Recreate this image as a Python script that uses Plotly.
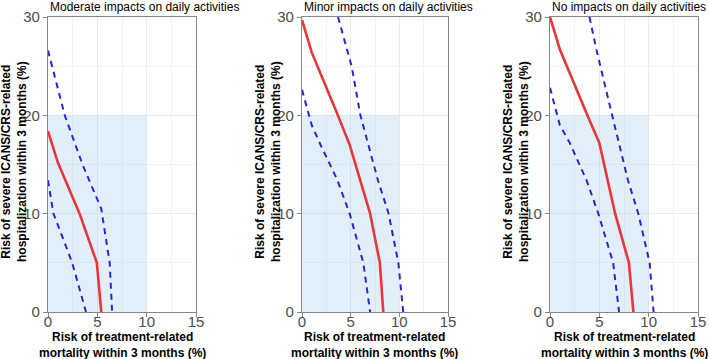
import plotly.graph_objects as go

# ---------------- data ----------------
panel_titles = ["Moderate impacts on daily activities",
                "Minor impacts on daily activities",
                "No impacts on daily activities"]

# Panel 1: Moderate
mod_est_x = [0.0, 1.0, 3.2, 4.95, 5.4]
mod_est_y = [18.4, 15.2, 10.0, 5.0, 0.0]
mod_hi_x = [0.0, 1.7, 3.5, 5.4, 6.25, 6.5]
mod_hi_y = [26.6, 20.0, 15.0, 10.5, 5.0, 0.0]
mod_lo_x = [0.0, 0.55, 1.4, 2.45, 3.85]
mod_lo_y = [13.4, 10.0, 7.8, 5.0, 0.0]

# Panel 2: Minor
min_est_x = [0.0, 1.0, 3.6, 4.9, 7.0, 8.0, 8.35]
min_est_y = [29.7, 26.4, 20.2, 17.0, 10.0, 5.0, 0.0]
min_hi_x = [3.7, 5.1, 6.0, 7.8, 8.9, 9.9, 10.4]
min_hi_y = [30.0, 25.0, 20.0, 13.4, 10.0, 5.0, 0.0]
min_lo_x = [0.0, 1.0, 2.0, 3.6, 4.9, 6.3, 7.0]
min_lo_y = [22.6, 19.0, 16.8, 13.5, 10.0, 5.0, 0.0]

# Panel 3: No impacts
no_est_x = [0.0, 1.0, 3.7, 5.0, 6.6, 8.0, 8.45]
no_est_y = [30.0, 26.7, 20.2, 17.2, 10.0, 5.0, 0.0]
no_hi_x = [4.0, 4.7, 6.25, 7.9, 8.95, 10.1, 10.5]
no_hi_y = [30.0, 26.7, 20.2, 13.4, 10.0, 5.0, 0.0]
no_lo_x = [0.0, 1.0, 2.0, 3.7, 4.9, 6.4, 7.0]
no_lo_y = [22.8, 19.0, 17.2, 13.4, 10.0, 5.0, 0.0]

shade_x = [0, 10]
shade_y = [0, 20]
x_ticks = [0, 5, 10, 15]
y_ticks = [0, 10, 20, 30]

panels = [
    (mod_est_x, mod_est_y, mod_hi_x, mod_hi_y, mod_lo_x, mod_lo_y),
    (min_est_x, min_est_y, min_hi_x, min_hi_y, min_lo_x, min_lo_y),
    (no_est_x, no_est_y, no_hi_x, no_hi_y, no_lo_x, no_lo_y),
]

# ---------------- layout geometry (window pixels) ----------------
W, H = 709, 359


def fx(px):
    return px / W


def fy(py):
    return 1 - py / H


x_px = [(48, 196), (302, 448), (550, 698)]
y_top, y_bot = 17, 312
ydom = [fy(y_bot), fy(y_top)]

RED = "#E8373C"
BLUE = "#2727CF"
BORDER = "#858585"
FONT = "Liberation Sans, Arial, sans-serif"

fig = go.Figure()
layout = dict(
    width=W, height=H,
    margin=dict(l=0, r=0, t=0, b=0, pad=0, autoexpand=False),
    paper_bgcolor="white", plot_bgcolor="white", showlegend=False,
    font=dict(family=FONT),
)
annotations = []
shapes = []

for i, (ex, ey, hx, hy, lx, ly) in enumerate(panels):
    n = "" if i == 0 else str(i + 1)
    xa, ya = "x" + n, "y" + n
    for xs, ys, col, w, dash in [(hx, hy, BLUE, 2, "6px,5px"),
                                  (lx, ly, BLUE, 2, "6px,5px"),
                                  (ex, ey, RED, 2.6, "solid")]:
        fig.add_trace(go.Scatter(x=xs, y=ys, mode="lines", xaxis=xa, yaxis=ya,
                                 line=dict(color=col, width=w, dash=dash),
                                 hoverinfo="skip", cliponaxis=True))
    x0, x1 = x_px[i]
    axcommon = dict(showline=True, mirror=True, linecolor=BORDER, linewidth=1.2,
                    ticks="outside", ticklen=4, tickcolor=BORDER, tickwidth=1.2,
                    tickfont=dict(size=15, color="#4D4D4D", family=FONT),
                    showgrid=True, gridcolor="#EBEBEB", gridwidth=1, zeroline=False,
                    automargin=False)
    layout["xaxis" + n] = dict(
        domain=[fx(x0), fx(x1)], anchor=ya, range=[0, 15],
        tickvals=x_ticks, ticktext=[str(v) for v in x_ticks],
        ticklabelstandoff=-8,
        minor=dict(dtick=2.5, tick0=0, showgrid=True, gridcolor="#F3F3F3",
                   gridwidth=0.8, ticks=""),
        **axcommon)
    layout["yaxis" + n] = dict(
        domain=ydom, anchor=xa, range=[0, 30],
        tickvals=y_ticks, ticktext=[str(v) for v in y_ticks],
        minor=dict(dtick=5, tick0=0, showgrid=True, gridcolor="#F3F3F3",
                   gridwidth=0.8, ticks=""),
        **axcommon)
    shapes.append(dict(type="rect", xref=xa, yref=ya,
                       x0=shade_x[0], x1=shade_x[1], y0=shade_y[0], y1=shade_y[1],
                       fillcolor="rgba(160,203,236,0.30)", line=dict(width=0),
                       layer="between"))
    # panel title
    annotations.append(dict(text=panel_titles[i], xref="paper", yref="paper",
                            x=fx(x0), y=fy(7), xanchor="left", yanchor="middle",
                            showarrow=False, font=dict(size=12, color="black", family=FONT)))
    # x axis title
    annotations.append(dict(text="<b>Risk of treatment-related<br>mortality within 3 months (%)</b>",
                            xref="paper", yref="paper",
                            x=fx((x0 + x1) / 2), y=fy(328),
                            xanchor="center", yanchor="top", showarrow=False,
                            font=dict(size=12, color="black", family=FONT)))
    # y axis title
    annotations.append(dict(text="<b>Risk of severe ICANS/CRS-related<br>hospitalization within 3 months (%)</b>",
                            xref="paper", yref="paper", textangle=-90,
                            x=fx(x0 - 34), y=fy(162),
                            xanchor="center", yanchor="middle", showarrow=False,
                            font=dict(size=12, color="black", family=FONT)))

layout["annotations"] = annotations
layout["shapes"] = shapes
fig.update_layout(**layout)
fig.write_html("out.html")
